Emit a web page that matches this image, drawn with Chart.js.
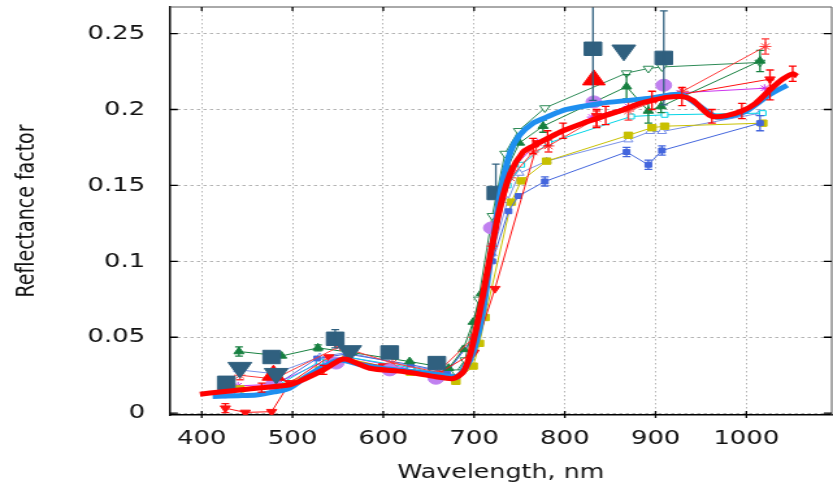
<!DOCTYPE html>
<html>
<head>
<meta charset="utf-8">
<script src="https://cdn.jsdelivr.net/npm/chart.js@4.4.1/dist/chart.umd.min.js"></script>
<style>
  html, body { margin: 0; padding: 0; background: #fff; overflow: hidden; }
  /* the reference is stretched sideways, so draw narrow and widen */
  #wrap { width: 641px; height: 483px; transform: scale(1.2995, 1); transform-origin: 0 0; }
</style>
</head>
<body>
<div id="wrap"><canvas id="chart" width="641" height="483"></canvas></div>
<script>
const xTicks = [400, 500, 600, 700, 800, 900, 1000]
const yTicks = [0, 0.05, 0.1, 0.15, 0.2, 0.25]
const yTickLabels = ['0', '0.05', '0.1', '0.15', '0.2', '0.25']

// thick red spectrum
const redWl = [398, 420, 442, 466, 497, 515, 534, 552, 560, 585, 622, 658, 677, 688, 696, 706, 717, 728, 740, 754, 765, 781, 798, 820, 835, 845, 865, 883, 896, 912, 929, 941, 952, 962, 978, 995, 1010, 1026, 1040, 1051, 1056]
const redV = [0.0125, 0.014, 0.0153, 0.0168, 0.0187, 0.023, 0.0285, 0.035, 0.0355, 0.0296, 0.0274, 0.024, 0.0228, 0.027, 0.0395, 0.066, 0.101, 0.134, 0.158, 0.172, 0.176, 0.181, 0.186, 0.191, 0.194, 0.196, 0.2, 0.204, 0.206, 0.208, 0.2085, 0.206, 0.2, 0.1955, 0.196, 0.199, 0.204, 0.213, 0.22, 0.2235, 0.222]
const redErr = [0, 0, 0, 0.003, 0, 0, 0.003, 0, 0, 0, 0, 0, 0, 0, 0, 0, 0, 0, 0, 0, 0.005, 0.005, 0.005, 0, 0.006, 0.006, 0, 0, 0.006, 0, 0.006, 0, 0, 0.0045, 0, 0.005, 0, 0.0066, 0, 0.005, 0]

// thick blue spectrum
const blueWl = [412, 440, 460, 480, 497, 515, 535, 552, 575, 600, 630, 660, 680, 690, 700, 710, 720, 730, 740, 750, 765, 780, 802, 839, 870, 894, 927, 949, 967, 985, 1000, 1026, 1045]
const blueV = [0.011, 0.0115, 0.012, 0.014, 0.0165, 0.024, 0.031, 0.035, 0.032, 0.0295, 0.0275, 0.0255, 0.024, 0.029, 0.042, 0.068, 0.11, 0.148, 0.172, 0.183, 0.191, 0.195, 0.2, 0.204, 0.206, 0.2075, 0.21, 0.202, 0.195, 0.196, 0.199, 0.21, 0.216]

// large markers
const sqWl = [427, 477, 547, 607, 659, 724, 831, 909]
const sqV = [0.020, 0.037, 0.049, 0.040, 0.033, 0.145, 0.240, 0.234]
const sqErr = [0, 0, 0.006, 0, 0, 0.019, 0.034, 0.031]
const triWl = [442, 482, 563, 865]
const triV = [0.030, 0.026, 0.041, 0.239]
const redTriWl = [479, 832]
const redTriV = [0.025, 0.2195]
const circWl = [426, 479, 548, 607, 658, 719, 832, 909]
const circV = [0.014, 0.019, 0.033, 0.0285, 0.023, 0.122, 0.205, 0.216]

// thin series
const gFillWl = [441, 488, 528, 565, 629, 672, 688, 699, 708, 737, 750, 776, 868, 892, 906, 1015]
const gFillV = [0.0406, 0.0377, 0.043, 0.040, 0.034, 0.0296, 0.042, 0.060, 0.079, 0.162, 0.178, 0.189, 0.215, 0.199, 0.202, 0.232]
const gFillErr = [0.003, 0, 0.002, 0, 0, 0, 0, 0, 0, 0, 0, 0.004, 0.008, 0.008, 0.004, 0.007]
const gOpenWl = [680, 690, 705, 720, 734, 749, 778, 868, 892, 907, 1015]
const gOpenV = [0.027, 0.035, 0.075, 0.13, 0.171, 0.186, 0.201, 0.224, 0.227, 0.228, 0.231]
const bSqWl = [430, 480, 527, 560, 630, 670, 700, 720, 738, 749, 778, 868, 892, 907, 1015]
const bSqV = [0.016, 0.018, 0.036, 0.039, 0.032, 0.027, 0.05, 0.10, 0.133, 0.143, 0.1526, 0.172, 0.1636, 0.173, 0.191]
const bSqErr = [0, 0, 0, 0, 0, 0, 0, 0, 0, 0, 0.003, 0.003, 0.003, 0.003, 0.005]
const yelWl = [442, 480, 530, 560, 630, 680, 699, 706, 712, 741, 752, 780, 870, 896, 910, 1018]
const yelV = [0.016, 0.017, 0.0285, 0.036, 0.027, 0.021, 0.031, 0.046, 0.063, 0.139, 0.153, 0.166, 0.183, 0.188, 0.189, 0.191]
const cyWl = [440, 480, 530, 560, 630, 680, 700, 720, 737, 752, 782, 873, 910, 1018]
const cyV = [0.014, 0.017, 0.034, 0.037, 0.030, 0.024, 0.045, 0.11, 0.150, 0.1636, 0.178, 0.1954, 0.1965, 0.1976]
const lbWl = [440, 480, 530, 560, 630, 670, 700, 720, 737, 750, 780, 870, 894, 907, 1015]
const lbV = [0.0286, 0.026, 0.037, 0.040, 0.031, 0.027, 0.05, 0.105, 0.14, 0.158, 0.166, 0.180, 0.1855, 0.1855, 0.1976]
const starWl = [442, 480, 552, 610, 660, 700, 720, 740, 765, 782, 835, 870, 930, 1021]
const starV = [0.025, 0.0225, 0.044, 0.033, 0.027, 0.05, 0.11, 0.155, 0.172, 0.176, 0.194, 0.199, 0.212, 0.2415]
const starErr = [0.003, 0, 0, 0, 0, 0, 0, 0, 0, 0.004, 0.005, 0.006, 0, 0.005]
const dnWl = [426, 448, 477, 497, 540, 600, 660, 700, 723, 770, 835, 900, 1026]
const dnV = [0.0033, 0.0005, 0.001, 0.02, 0.037, 0.031, 0.026, 0.04, 0.082, 0.178, 0.196, 0.207, 0.220]
const dnErr = [0.003, 0, 0, 0, 0, 0, 0, 0, 0, 0, 0, 0, 0.006]
const magWl = [440, 480, 530, 560, 630, 680, 700, 720, 740, 770, 830, 870, 927, 1020]
const magV = [0.018, 0.019, 0.033, 0.037, 0.029, 0.024, 0.045, 0.11, 0.16, 0.178, 0.195, 0.202, 0.211, 0.214]

function pts(wl, v) {
    return wl.map((w, i) => ({ x: w, y: v[i] }))
}

function thin(wl, v, color, style, fill, extra) {
    return Object.assign({
        data: pts(wl, v),
        showLine: true,
        borderColor: color,
        borderWidth: 1,
        pointStyle: style,
        pointRadius: 3.5,
        pointBackgroundColor: fill,
        pointBorderColor: color,
        pointBorderWidth: 1,
    }, extra || {})
}

const errorBars = {
    id: 'errorBars',
    afterDatasetDraw(chart, args) {
        const ds = chart.data.datasets[args.index]
        if (!ds.errs) return
        const { ctx, chartArea: a } = chart
        const ys = chart.scales.y
        ctx.save()
        ctx.beginPath()
        ctx.rect(a.left, a.top, a.right - a.left, a.bottom - a.top)
        ctx.clip()
        ctx.strokeStyle = ds.errColor || ds.borderColor
        ctx.lineWidth = 1.3
        args.meta.data.forEach((pt, i) => {
            const e = ds.errs[i]
            if (!e) return
            const v = ds.data[i].y
            const y1 = ys.getPixelForValue(v + e)
            const y2 = ys.getPixelForValue(v - e)
            ctx.beginPath()
            ctx.moveTo(pt.x, y1); ctx.lineTo(pt.x, y2)
            ctx.moveTo(pt.x - 3, y1); ctx.lineTo(pt.x + 3, y1)
            ctx.moveTo(pt.x - 3, y2); ctx.lineTo(pt.x + 3, y2)
            ctx.stroke()
        })
        ctx.restore()
    }
}

// box round the plot and the inward tick marks
const frame = {
    id: 'frame',
    afterDatasetsDraw(chart) {
        const { ctx, chartArea: a, scales: { x, y } } = chart
        ctx.save()
        ctx.strokeStyle = '#555'
        ctx.lineWidth = 1
        ctx.beginPath()
        ctx.moveTo(a.left, a.top); ctx.lineTo(a.right, a.top); ctx.lineTo(a.right, a.bottom)
        ctx.stroke()
        ctx.strokeStyle = '#000'
        ctx.lineWidth = 1.3
        ctx.beginPath()
        x.ticks.forEach(t => {
            const px = x.getPixelForValue(t.value)
            ctx.moveTo(px, a.bottom + 3); ctx.lineTo(px, a.bottom - 4)
            ctx.moveTo(px, a.top); ctx.lineTo(px, a.top + 4)
        })
        y.ticks.forEach(t => {
            const py = y.getPixelForValue(t.value)
            ctx.moveTo(a.left, py); ctx.lineTo(a.left + 6, py)
            ctx.moveTo(a.right, py); ctx.lineTo(a.right - 6, py)
        })
        ctx.stroke()
        ctx.restore()
    }
}

const ctx = document.getElementById('chart')
const myChart = new Chart(ctx, {
    type: 'scatter',
    data: {
        datasets: [
            { data: pts(redWl, redV), errs: redErr, showLine: true, borderColor: '#ff0000', borderWidth: 5, tension: 0.25, pointRadius: 0 },
            { data: pts(blueWl, blueV), showLine: true, borderColor: '#1e8ff0', borderWidth: 5, tension: 0.25, pointRadius: 0 },
            { data: pts(sqWl, sqV), errs: sqErr, errColor: '#30607f', showLine: false, pointStyle: 'rect', pointRadius: 9.5, backgroundColor: '#30607f', borderColor: '#30607f' },
            { data: pts(triWl, triV), showLine: false, pointStyle: 'triangle', rotation: 180, pointRadius: 10.5, backgroundColor: '#30607f', borderColor: '#30607f' },
            { data: pts(redTriWl, redTriV), showLine: false, pointStyle: 'triangle', pointRadius: 10, backgroundColor: '#ff0000', borderColor: '#ff0000' },
            { data: pts(circWl, circV), showLine: false, pointStyle: 'circle', pointRadius: 6, backgroundColor: '#c080f0', borderColor: '#c080f0' },
            thin(starWl, starV, '#ff3838', 'star', '#ff3838', { errs: starErr, pointRadius: 4.5 }),
            thin(dnWl, dnV, '#ff1010', 'triangle', '#ff1010', { errs: dnErr, rotation: 180, pointRadius: 4.5 }),
            thin(gFillWl, gFillV, '#178040', 'triangle', '#178040', { errs: gFillErr, pointRadius: 4.5 }),
            thin(gOpenWl, gOpenV, '#2e8b57', 'triangle', '#ffffff', { rotation: 180, pointRadius: 4.5 }),
            thin(bSqWl, bSqV, '#4466dd', 'rect', '#4466dd', { errs: bSqErr }),
            thin(cyWl, cyV, '#00d4e6', 'rect', '#ffffff'),
            thin(yelWl, yelV, '#c8c000', 'rect', '#c8c000', { pointRadius: 4.5 }),
            thin(lbWl, lbV, '#7890e8', 'triangle', '#ffffff', { pointRadius: 4 }),
            thin(magWl, magV, '#cc33ee', 'star', '#cc33ee', { pointRadius: 4 }),
        ]
    },
    options: {
        responsive: false,
        animation: false,
        devicePixelRatio: 1,
        layout: { autoPadding: false, padding: { top: 7, right: 1, bottom: 0, left: 0 } },
        plugins: {
            legend: { display: false },
            tooltip: { enabled: false },
        },
        scales: {
            x: {
                type: 'linear',
                min: 365,
                max: 1094,
                afterBuildTicks: s => { s.ticks = xTicks.map(v => ({ value: v })) },
                afterFit: s => { s.height = 68; s.paddingLeft = 0; s.paddingRight = 0 },
                ticks: { color: '#111', font: { family: 'DejaVu Sans', size: 20 }, padding: 12, callback: v => String(v) },
                grid: { color: '#b4b4b4', drawTicks: false, lineWidth: 1 },
                border: { display: true, color: '#000', width: 1.5, dash: [1.5, 2.5] },
                title: { display: true, text: 'Wavelength, nm', color: '#111', font: { family: 'DejaVu Sans', size: 19.5, lineHeight: 1 }, padding: { top: 0, bottom: 0 } }
            },
            y: {
                type: 'linear',
                min: -0.0012,
                max: 0.2675,
                afterBuildTicks: s => { s.ticks = yTicks.map(v => ({ value: v })) },
                afterFit: s => { s.width = 130.8; s.paddingTop = 0; s.paddingBottom = 0 },
                ticks: { color: '#111', font: { family: 'DejaVu Sans', size: 20 }, padding: 19, callback: (v, i) => yTickLabels[i] },
                grid: { color: '#b4b4b4', drawTicks: false, lineWidth: 1 },
                border: { display: true, color: '#000', width: 1.5, dash: [2.5, 2.5] },
                title: { display: true, text: 'Reflectance factor', color: '#111', font: { family: 'DejaVu Sans', size: 19, lineHeight: 1.2 }, padding: { top: 10, bottom: 0 } }
            }
        }
    },
    plugins: [errorBars, frame]
})
</script>
</body>
</html>
